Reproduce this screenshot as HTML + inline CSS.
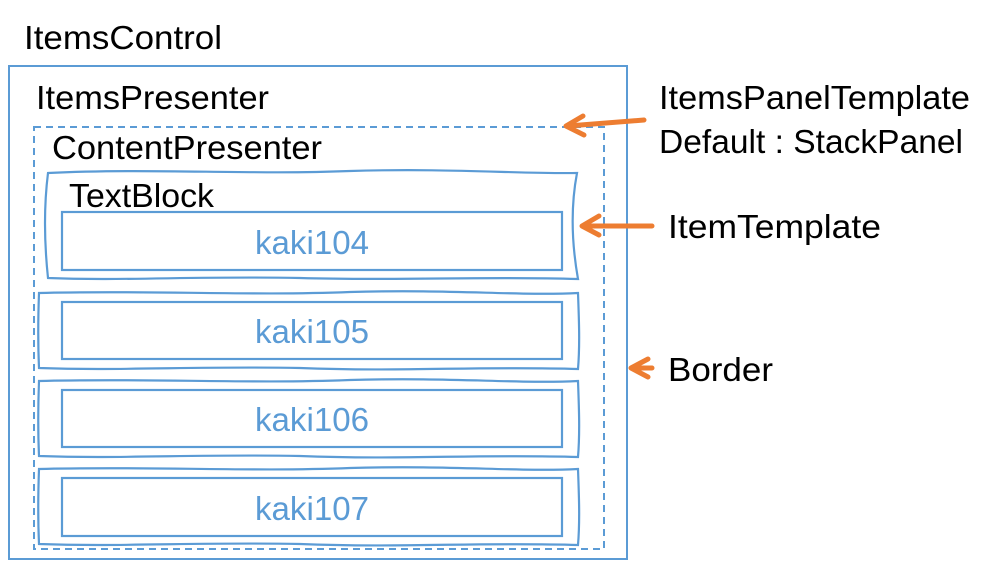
<!DOCTYPE html>
<html><head><meta charset="utf-8"><style>
html,body{margin:0;padding:0;background:#fff;}
svg{display:block;}
text{font-family:"Liberation Sans",sans-serif;}
</style></head><body>
<svg width="998" height="563" viewBox="0 0 998 563" xmlns="http://www.w3.org/2000/svg">
<g fill="none" stroke="#5B9BD5">
<rect x="9" y="66" width="618" height="493" stroke-width="2"/>
<rect x="34" y="127" width="570" height="422" stroke-width="2" stroke-dasharray="7,5"/>
<g stroke-width="2.2">
<path d="M48 173 C150 168 250 175 350 171 C450 168 520 174 577 173 C570 210 572 245 578 279 C480 276 400 281 300 278 C200 276 120 281 48 278 C44 240 44 205 48 173 Z"/>
<path d="M39 293 C150 290 250 296 350 292 C450 289 520 296 578 293 C579 320 580 345 578 369 C480 366 400 372 300 368 C200 366 120 371 39 368 C38 345 38 320 39 293 Z"/>
<path d="M39 381 C150 378 250 384 350 380 C450 377 520 384 578 381 C579 408 580 433 578 457 C480 454 400 460 300 456 C200 454 120 459 39 456 C38 433 38 408 39 381 Z"/>
<path d="M39 469 C150 466 250 472 350 468 C450 465 520 472 578 469 C579 496 580 521 578 545 C480 542 400 548 300 544 C200 542 120 547 39 544 C38 521 38 496 39 469 Z"/>
<rect x="62" y="212" width="500" height="58"/>
<rect x="62" y="302" width="500" height="57"/>
<rect x="62" y="390" width="500" height="57"/>
<rect x="62" y="478" width="500" height="58"/>
</g>
</g>
<g fill="#000" font-size="33">
<text x="24" y="49" textLength="198" lengthAdjust="spacingAndGlyphs">ItemsControl</text>
<text x="36" y="109" textLength="233" lengthAdjust="spacingAndGlyphs">ItemsPresenter</text>
<text x="52" y="159" textLength="270" lengthAdjust="spacingAndGlyphs">ContentPresenter</text>
<text x="69" y="207" textLength="145" lengthAdjust="spacingAndGlyphs">TextBlock</text>
<text x="659" y="109" textLength="311" lengthAdjust="spacingAndGlyphs">ItemsPanelTemplate</text>
<text x="659" y="153" textLength="304" lengthAdjust="spacingAndGlyphs">Default : StackPanel</text>
<text x="668" y="238" textLength="213" lengthAdjust="spacingAndGlyphs">ItemTemplate</text>
<text x="668" y="381" textLength="105" lengthAdjust="spacingAndGlyphs">Border</text>
</g>
<g fill="#5B9BD5" font-size="33" text-anchor="middle">
<text x="312" y="254" textLength="114" lengthAdjust="spacingAndGlyphs">kaki104</text>
<text x="312" y="343" textLength="114" lengthAdjust="spacingAndGlyphs">kaki105</text>
<text x="312" y="431" textLength="114" lengthAdjust="spacingAndGlyphs">kaki106</text>
<text x="312" y="520" textLength="114" lengthAdjust="spacingAndGlyphs">kaki107</text>
</g>
<g stroke="#ED7D31" stroke-width="5" fill="none" stroke-linecap="round" stroke-linejoin="round">
<line x1="644" y1="120" x2="568" y2="126"/>
<polyline points="583,116 566,126 584,135"/>
<line x1="652" y1="226" x2="583" y2="226"/>
<polyline points="599,216 582,226 599,235"/>
<line x1="652" y1="368" x2="632" y2="368"/>
<polyline points="648,359 631,368 648,377"/>
</g>
</svg>
</body></html>
